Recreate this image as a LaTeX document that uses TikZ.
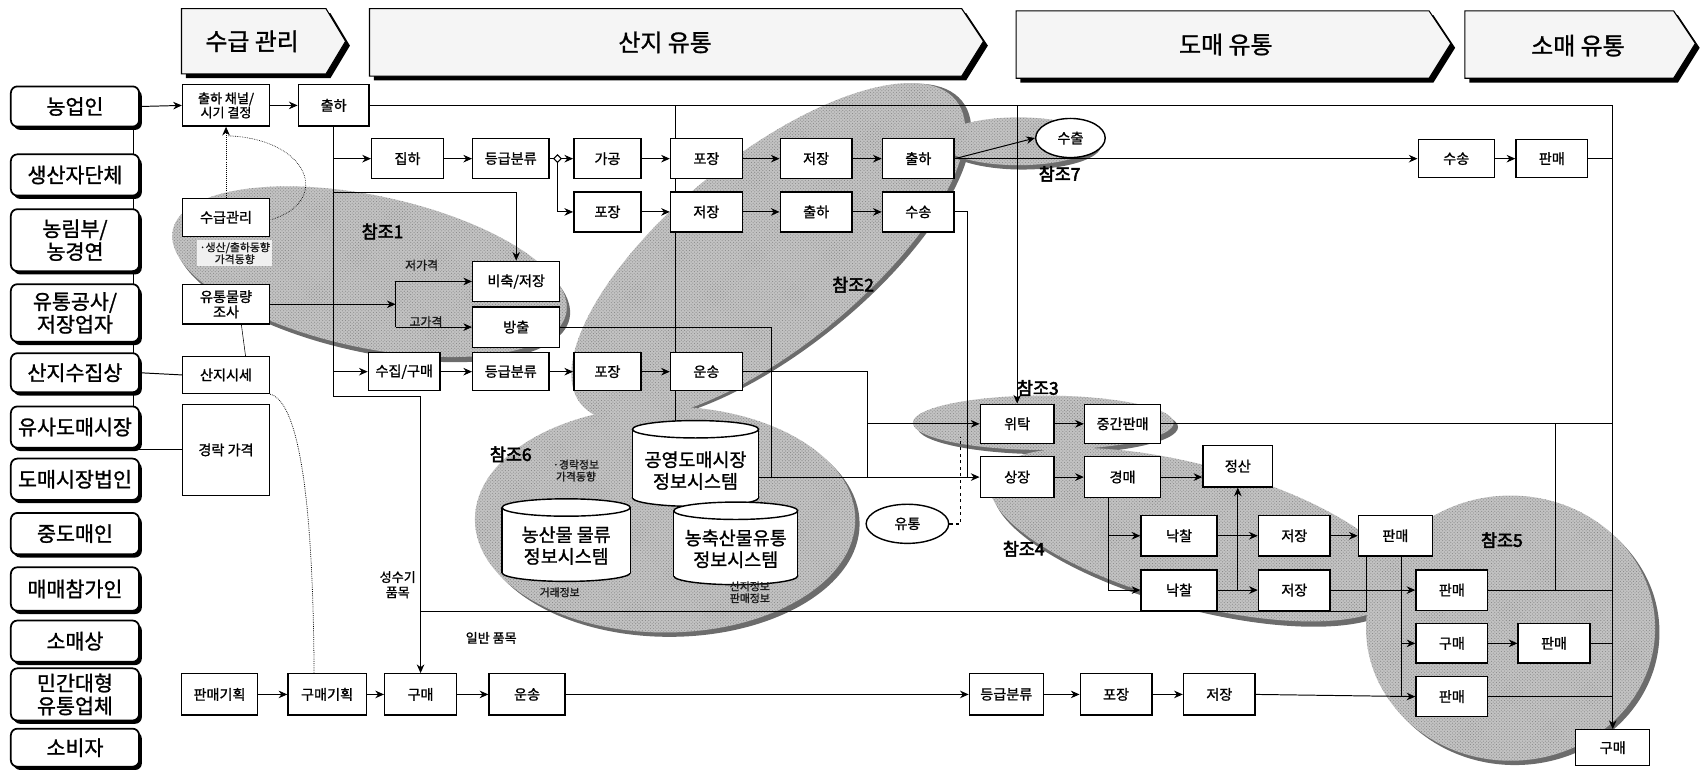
\documentclass[tikz,border=0pt]{standalone}
\usepackage{fontspec}
\setmainfont{Noto Sans CJK KR}[FakeBold=1.2]
\newfontfamily\krb{Noto Sans CJK KR}[FakeBold=3]
\usetikzlibrary{arrows.meta,shadows,patterns,shapes.geometric}
\pgfdeclarelayer{ell}\pgfdeclarelayer{lines}\pgfsetlayers{ell,lines,main}
\newcommand\bxx[6]{\node[bx,minimum width=#4pt,minimum height=#5pt] (#1) at (#2,#3) {#6};}
\newcommand\shell[5]{%
 \fill[gray!85!black,rotate around={#5:(#1,#2)}] (#1+4,#2+4) ellipse[x radius=#3,y radius=#4];
 \fill[gray!48,rotate around={#5:(#1,#2)}] (#1,#2) ellipse[x radius=#3,y radius=#4];
 \fill[pattern=crosshatch dots,pattern color=gray!95,rotate around={#5:(#1,#2)}] (#1,#2) ellipse[x radius=#3,y radius=#4];}
\newcommand\cyl[5]{% x1 x2 ytop ybot ry
 \draw[line width=1.3pt,fill=white] ({(#1+#2)/2},#4) ellipse[x radius={(#2-#1)/2},y radius=#5];
 \fill[white] (#1,#3) rectangle (#2,#4);
 \draw[line width=1.3pt] (#1,#3) -- (#1,#4) (#2,#3) -- (#2,#4);
 \draw[line width=1.3pt,fill=white] ({(#1+#2)/2},#3) ellipse[x radius={(#2-#1)/2},y radius=#5];}
\tikzset{
 bx/.style={draw,fill=white,line width=1.3pt,inner sep=1pt,align=center,font=\fontsize{13}{14}\selectfont},
 lbx/.style={draw,fill=white,line width=1.6pt,rounded corners=6pt,inner sep=1pt,align=center,minimum width=118pt,
   font=\fontsize{19}{21}\selectfont,drop shadow={shadow xshift=2.5pt,shadow yshift=-3pt,fill=black,opacity=1}},
 ln/.style={line width=0.9pt},
 arr/.style={line width=0.9pt,-{Stealth[length=8pt,width=7pt]}},
 hdrtext/.style={font=\fontsize{22}{24}\selectfont},
 refl/.style={font=\krb\fontsize{16}{18}\selectfont},
 faint/.style={font=\fontsize{10}{11}\selectfont,text=gray!20!black,align=center},
 oval/.style={ellipse,draw,fill=white,line width=1.3pt,inner sep=0pt,font=\fontsize{13}{14}\selectfont}
}
\begin{document}
\begin{tikzpicture}[x=1pt,y=-1pt]
\useasboundingbox (0,0) rectangle (1568,709);

% ---------- headers ----------
\fill[black] (171,12) -- (304,12) -- (322,42) -- (304,72) -- (171,72) -- cycle;
\draw[line width=1pt,fill=gray!8] (167,8) -- (300,8) -- (318,38) -- (300,68) -- (167,68) -- cycle;
\node[hdrtext] (h1) at (232,38) {수급 관리};
\fill[black] (344,12) -- (889,12) -- (909,42) -- (889,74) -- (344,74) -- cycle;
\draw[line width=1pt,fill=gray!8] (340,8) -- (885,8) -- (905,38) -- (885,70) -- (340,70) -- cycle;
\node[hdrtext] (h2) at (612,39) {산지 유통};
\fill[black] (939,14) -- (1319,14) -- (1339,44) -- (1319,76) -- (939,76) -- cycle;
\draw[line width=1pt,fill=gray!8] (935,10) -- (1315,10) -- (1335,40) -- (1315,72) -- (935,72) -- cycle;
\node[hdrtext] (h3) at (1128,41) {도매 유통};
\fill[black] (1352,14) -- (1544,14) -- (1564,44) -- (1544,76) -- (1352,76) -- cycle;
\draw[line width=1pt,fill=gray!8] (1348,10) -- (1540,10) -- (1560,40) -- (1540,72) -- (1348,72) -- cycle;
\node[hdrtext] (h4) at (1452,42) {소매 유통};

% ---------- shaded reference ellipses ----------
\begin{pgfonlayer}{ell}
\shell{340}{250}{185}{70}{-12}
\shell{707}{232}{222}{88}{39}
\shell{612}{478}{175}{104}{0}
\shell{937}{130}{72}{22}{0}
\shell{960}{389}{120}{25}{0}
\shell{1100}{492}{195}{64}{-15}
\shell{1390}{578}{133}{122}{0}
\end{pgfonlayer}

% ---------- left column ----------
\node[lbx,minimum height=37pt] (L1) at (69,98) {농업인};
\node[lbx,minimum height=38pt] (L2) at (69,161) {생산자단체};
\node[lbx,minimum height=57pt] (L3) at (69,221) {농림부/\\농경연};
\node[lbx,minimum height=53pt] (L4) at (69,288) {유통공사/\\저장업자};
\node[lbx,minimum height=36pt] (L5) at (69,343) {산지수집상};
\node[lbx,minimum height=38pt] (L6) at (69,393) {유사도매시장};
\node[lbx,minimum height=38pt] (L7) at (69,441) {도매시장법인};
\node[lbx,minimum height=38pt] (L8) at (69,491) {중도매인};
\node[lbx,minimum height=40pt] (L9) at (69,542) {매매참가인};
\node[lbx,minimum height=38pt] (L10) at (69,590) {소매상};
\node[lbx,minimum height=48pt] (L11) at (69,639) {민간대형\\유통업체};
\node[lbx,minimum height=35pt] (L12) at (69,688) {소비자};

% ---------- supply management column ----------
\node[bx,minimum width=80pt,minimum height=38pt,font=\fontsize{12}{13}\selectfont] (cc) at (208,97) {출하 채널/\\시기 결정};
\bxx{sg}{208}{200}{80}{35}{수급관리}
\node[faint,fill=gray!12,inner sep=2pt] (sgt) at (216,233) {·생산/출하동향\\가격동향};
\bxx{yt}{208}{280}{80}{36}{유통물량\\조사}
\bxx{sj}{208}{345}{80}{34}{산지시세}
\bxx{gr}{208}{414}{80}{84}{경락 가격}
\bxx{ch}{307}{97}{65}{38}{출하}

% ---------- production-area rows ----------
\bxx{jh}{375}{146}{66}{37}{집하}
\bxx{dg1}{470}{146}{70}{37}{등급분류}
\bxx{gg}{559}{146}{62}{37}{가공}
\bxx{pj1}{650}{146}{66}{37}{포장}
\bxx{jj1}{751}{146}{66}{37}{저장}
\bxx{ch1}{845}{146}{66}{37}{출하}
\bxx{pj2}{559}{195}{62}{37}{포장}
\bxx{jj2}{650}{195}{66}{37}{저장}
\bxx{ch2}{751}{195}{66}{37}{출하}
\bxx{ss1}{845}{195}{66}{37}{수송}
\bxx{bc}{475}{259}{80}{37}{비축/저장}
\bxx{bo}{475}{301}{80}{37}{방출}
\bxx{sjg}{372}{342}{66}{35}{수집/구매}
\bxx{dg2}{470}{342}{70}{35}{등급분류}
\bxx{pj3}{559}{342}{62}{35}{포장}
\bxx{us1}{650}{342}{66}{35}{운송}
\node[diamond,draw,fill=white,line width=1pt,inner sep=1.8pt] (jn) at (513,146) {};

% ---------- info systems ----------
\cyl{582}{698}{395}{458}{8}
\node[font=\fontsize{17}{20}\selectfont,align=center] (cy1) at (640,433) {공영도매시장\\정보시스템};
\cyl{462}{580}{467}{527}{8}
\node[font=\fontsize{17}{20}\selectfont,align=center] (cy2) at (521,502) {농산물 물류\\정보시스템};
\cyl{620}{734}{470}{530}{8}
\node[font=\fontsize{17}{20}\selectfont,align=center] (cy3) at (677,505) {농축산물유통\\정보시스템};

% ---------- wholesale ----------
\node[oval,minimum width=64pt,minimum height=36pt] (sc) at (985,127) {수출};
\node[oval,minimum width=76pt,minimum height=36pt] (ut) at (835,482) {유통};
\bxx{ss2}{1340}{146}{70}{35}{수송}
\bxx{pm1}{1428}{146}{66}{35}{판매}
\bxx{wt}{936}{390}{68}{36}{위탁}
\bxx{jg}{1033}{390}{70}{36}{중간판매}
\bxx{sjj}{936}{439}{68}{38}{상장}
\bxx{gm}{1033}{439}{70}{38}{경매}
\bxx{js}{1139}{429}{64}{38}{정산}
\bxx{nc1}{1085}{493}{70}{37}{낙찰}
\bxx{jj3}{1191}{493}{66}{37}{저장}
\bxx{nc2}{1085}{543}{70}{37}{낙찰}
\bxx{jj4}{1191}{543}{66}{37}{저장}
\bxx{pm2}{1284}{493}{68}{37}{판매}
\bxx{pm3}{1336}{543}{66}{37}{판매}
\bxx{gm2}{1336}{592}{66}{36}{구매}
\bxx{pm4}{1430}{592}{66}{36}{판매}
\bxx{pm5}{1336}{641}{66}{37}{판매}
\bxx{gm3}{1484}{688}{68}{33}{구매}

% ---------- bottom row ----------
\bxx{pg}{202}{639}{70}{38}{판매기획}
\bxx{gg2}{301}{639}{72}{38}{구매기획}
\bxx{gm1}{387}{639}{66}{38}{구매}
\bxx{us2}{485}{639}{70}{38}{운송}
\bxx{dg3}{926}{639}{68}{38}{등급분류}
\bxx{pj4}{1027}{639}{66}{38}{포장}
\bxx{jj5}{1122}{639}{66}{38}{저장}

% ---------- labels ----------
\node[refl] (r1) at (352,213) {참조1};
\node[refl] (r2) at (785,262) {참조2};
\node[refl] (r3) at (955,357) {참조3};
\node[refl] (r4) at (942,505) {참조4};
\node[refl] (r5) at (1382,497) {참조5};
\node[refl] (r6) at (470,418) {참조6};
\node[refl] (r7) at (975,160) {참조7};
\node[faint,font=\fontsize{11}{12}\selectfont] (lp) at (388,244) {저가격};
\node[faint,font=\fontsize{11}{12}\selectfont] (hp) at (392,296) {고가격};
\node[faint] (i1) at (530,433) {·경락정보\\가격동향};
\node[faint] (i2) at (515,545) {거래정보};
\node[faint] (i3) at (690,545) {산지정보\\판매정보};
\node[font=\fontsize{12}{14}\selectfont,align=center] (t1) at (366,538) {성수기\\품목};
\node[font=\fontsize{12}{14}\selectfont] (t2) at (452,587) {일반 품목};

% ---------- connectors ----------
\begin{pgfonlayer}{lines}
\draw[arr] (L1.east) -- (cc.west);
\draw[ln] (123,117) -- (123,414) -- (gr.west);
\draw[ln] (L5.east) -- (sj.west);
\draw[arr] (cc.east) -- (ch.west);
\draw[arr] (ch.east) -- (1484,97) -- (gm3.north);
\draw[ln] (622,97) -- (622,395);
\draw[arr] (936,97) -- (wt.north);
\draw[arr] (ch.south) -- (307,365) -- (387,365) -- (gm1.north);
\draw[arr] (307,146) -- (jh.west);
\draw[arr] (307,342) -- (sjg.west);
\draw[arr] (307,177) -- (475,177) -- (bc.north);
\draw[arr] (jh.east) -- (dg1.west);
\draw[arr] (dg1.east) -- (gg.west);
\draw[arr] (jn.south) -- (513,195) -- (pj2.west);
\draw[arr] (gg.east) -- (pj1.west);
\draw[arr] (pj1.east) -- (jj1.west);
\draw[arr] (jj1.east) -- (ch1.west);
\draw[arr] (pj2.east) -- (jj2.west);
\draw[arr] (jj2.east) -- (ch2.west);
\draw[arr] (ch2.east) -- (ss1.west);
\draw[arr] (ch1.east) -- (sc.west);
\draw[arr] (ch1.east) -- (ss2.west);
\draw[arr] (ss2.east) -- (pm1.west);
\draw[ln] (pm1.east) -- (1484,146);
\draw[arr] (sjg.east) -- (dg2.west);
\draw[arr] (dg2.east) -- (pj3.west);
\draw[arr] (pj3.east) -- (us1.west);
\draw[arr] (yt.east) -- (364,280);
\draw[ln] (364,259) -- (364,301);
\draw[arr] (364,259) -- (bc.west);
\draw[arr] (364,301) -- (bo.west);
\draw[ln] (bo.east) -- (710,301) -- (710,439);
\draw[arr] (us1.east) -- (798,342) -- (798,390) -- (wt.west);
\draw[ln] (798,390) -- (798,439);
\draw[ln] (ss1.east) -- (890,195) -- (890,439);
\draw[arr] (698,439) -- (sjj.west);
\draw[dashed,line width=1.3pt] (ut.east) -- (884,482) -- (884,402);
\draw[arr] (wt.east) -- (jg.west);
\draw[arr] (sjj.east) -- (gm.west);
\draw[arr] (gm.east) -- (gm.east -| js.west);
\draw[ln] (1020,458) -- (1020,543);
\draw[arr] (1020,493) -- (nc1.west);
\draw[arr] (1020,543) -- (nc2.west);
\draw[arr] (nc1.east) -- (jj3.west);
\draw[arr] (nc2.east) -- (jj4.west);
\draw[arr] (1139,543) -- (js.south);
\draw[arr] (jj3.east) -- (pm2.west);
\draw[ln] (jj4.east) -- (1257,543);
\draw[ln] (387,563) -- (1257,563) -- (1257,512);
\draw[arr] (1257,543) -- (pm3.west);
\draw[ln] (1290,512) -- (1290,641);
\draw[arr] (1290,592) -- (gm2.west);
\draw[arr] (jj5.east) -- (pm5.west);
\draw[arr] (gm2.east) -- (pm4.west);
\draw[ln] (pm3.east) -- (1484,543);
\draw[ln] (pm4.east) -- (1484,592);
\draw[ln] (pm5.east) -- (1484,641);
\draw[ln] (jg.east) -- (1484,390);
\draw[ln] (1431,390) -- (1431,543);
\draw[arr] (pg.east) -- (gg2.west);
\draw[arr] (gg2.east) -- (gm1.west);
\draw[arr] (gm1.east) -- (us2.west);
\draw[arr] (us2.east) -- (dg3.west);
\draw[arr] (dg3.east) -- (pj4.west);
\draw[arr] (pj4.east) -- (jj5.west);
\draw[densely dotted,line width=0.9pt,-{Stealth[length=8pt,width=7pt]}] (sg.north) -- (cc.south);
\draw[densely dotted,line width=0.6pt] (210,125) .. controls (285,128) and (305,185) .. (250,202);
\draw[densely dotted,line width=0.7pt] (sj.south east) .. controls (268,368) and (288,420) .. (289,620);
\draw[line width=0.5pt] (222,298) -- (226,328);
\end{pgfonlayer}
\end{tikzpicture}
\end{document}
